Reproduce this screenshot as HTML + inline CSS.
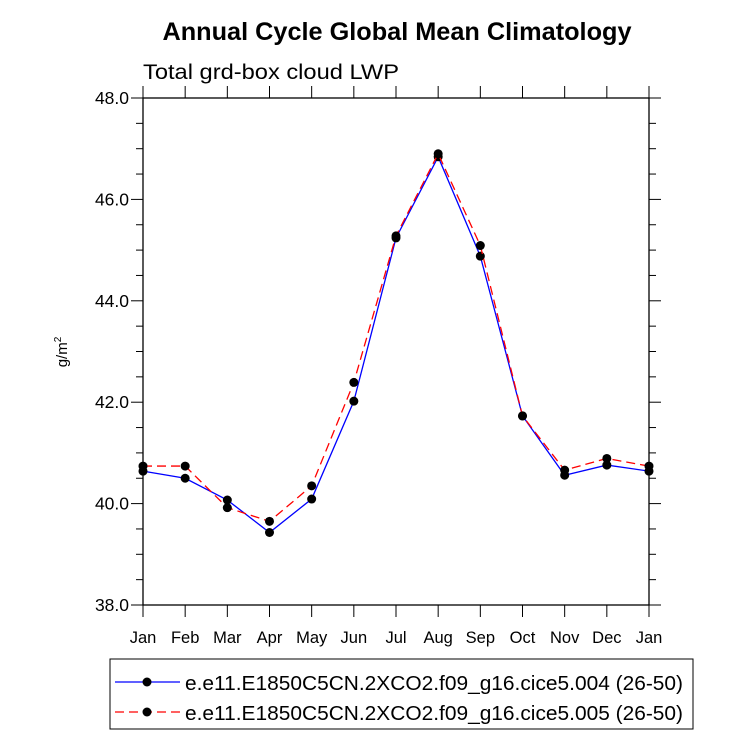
<!DOCTYPE html>
<html><head><meta charset="utf-8"><style>
body{margin:0;background:#fff;width:733px;height:737px;overflow:hidden;font-family:"Liberation Sans",sans-serif}
</style></head><body>
<svg id="chart" width="733" height="737" xmlns="http://www.w3.org/2000/svg" font-family="Liberation Sans, sans-serif">
<text x="397" y="40" font-size="25" font-weight="bold" text-anchor="middle" textLength="469" lengthAdjust="spacingAndGlyphs">Annual Cycle Global Mean Climatology</text>
<text x="143" y="79" font-size="21" textLength="256" lengthAdjust="spacingAndGlyphs">Total grd-box cloud LWP</text>
<text transform="translate(67,352) rotate(-90)" font-size="15" text-anchor="middle">g/m<tspan font-size="10" dy="-6">2</tspan></text>
<g id="axes"></g>
<g id="series"></g>
<rect x="110" y="659" width="583" height="70" fill="none" stroke="#000" stroke-width="1"/>
<g>
<line x1="115" y1="682" x2="180" y2="682" stroke="#0000ff" stroke-width="1.3"/>
<circle cx="147" cy="682" r="4.5" fill="#000"/>
<text x="185" y="690" font-size="20" textLength="498" lengthAdjust="spacingAndGlyphs">e.e11.E1850C5CN.2XCO2.f09_g16.cice5.004 (26-50)</text>
</g>
<g>
<line x1="115" y1="712" x2="180" y2="712" stroke="#ff0000" stroke-width="1.3" stroke-dasharray="9,5"/>
<circle cx="147" cy="712" r="4.5" fill="#000"/>
<text x="185" y="720" font-size="20" textLength="498" lengthAdjust="spacingAndGlyphs">e.e11.E1850C5CN.2XCO2.f09_g16.cice5.005 (26-50)</text>
</g>
</svg>
<script>
const months=["Jan","Feb","Mar","Apr","May","Jun","Jul","Aug","Sep","Oct","Nov","Dec","Jan"];
const series004=[40.64,40.50,40.07,39.43,40.09,42.02,45.24,46.84,44.88,41.73,40.56,40.76,40.64];
const series005=[40.74,40.74,39.92,39.65,40.35,42.39,45.28,46.90,45.09,41.73,40.66,40.89,40.74];
const yTicks=["38.0","40.0","42.0","44.0","46.0","48.0"];
const X0=143,X1=649,Y0=605,Y1=98,YMIN=38,YMAX=48;
const xs=i=>X0+(X1-X0)*i/(months.length-1);
const ys=v=>Y0-(v-YMIN)/(YMAX-YMIN)*(Y0-Y1);
const NS="http://www.w3.org/2000/svg";
function mk(tag,attrs,parent){const e=document.createElementNS(NS,tag);for(const k in attrs)e.setAttribute(k,attrs[k]);parent.appendChild(e);return e;}
const ax=document.getElementById('axes');
const frame=mk('rect',{x:X0,y:Y1,width:X1-X0,height:Y0-Y1,fill:'none',stroke:'#000','stroke-width':1.3},ax);


for(let v=YMIN;v<=YMAX+1e-9;v+=0.5){
  const major=Math.abs(v/2-Math.round(v/2))<1e-6;const L=major?12:7;const y=ys(v);
  mk('line',{x1:X0-L,y1:y,x2:X0,y2:y,stroke:'#000','stroke-width':1},ax);
  mk('line',{x1:X1,y1:y,x2:X1+L,y2:y,stroke:'#000','stroke-width':1},ax);
}
yTicks.forEach(t=>{
  const e=mk('text',{x:X0-14,y:ys(parseFloat(t))+6,'font-size':17.5,'text-anchor':'end'},ax);
  e.textContent=t;
  
  
});
months.forEach((m,i)=>{
  const x=xs(i);
  mk('line',{x1:x,y1:Y0,x2:x,y2:Y0+12,stroke:'#000','stroke-width':1},ax);
  mk('line',{x1:x,y1:Y1-12,x2:x,y2:Y1,stroke:'#000','stroke-width':1},ax);
  const e=mk('text',{x:x,y:Y0+38,'font-size':16.5,'text-anchor':'middle'},ax);
  e.textContent=m;
  
  
});
const sg=document.getElementById('series');
function draw(data,color,dash,name){
  const p=mk('polyline',{points:data.map((v,i)=>xs(i)+','+ys(v)).join(' '),fill:'none',stroke:color,'stroke-width':1.3},sg);
  if(dash)p.setAttribute('stroke-dasharray',dash);
  
  
  data.forEach((v,i)=>{
    const c=mk('circle',{cx:xs(i),cy:ys(v),r:4.5,fill:'#000'},sg);
    
    
  });
}
draw(series004,'#0000ff',null,'series-004');
draw(series005,'#ff0000','9,5','series-005');
</script>
</body></html>
